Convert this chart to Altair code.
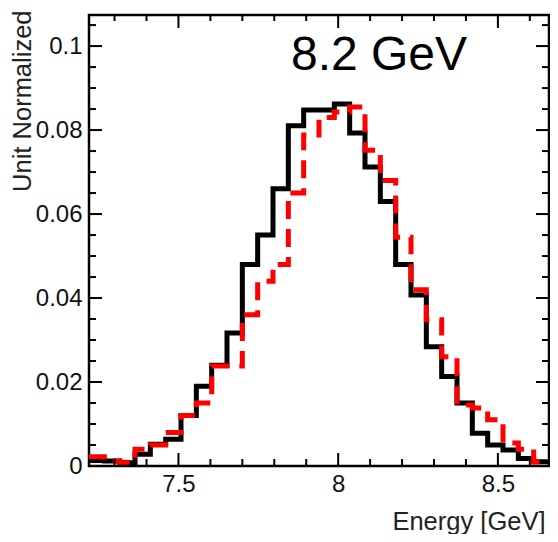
import altair as alt
import pandas as pd

# Histogram bin edges (30 bins, 7.22 - 8.66 GeV)
bin_edges = [7.220, 7.268, 7.316, 7.364, 7.412, 7.460, 7.508, 7.556, 7.604, 7.652,
             7.700, 7.748, 7.796, 7.844, 7.892, 7.940, 7.988, 8.036, 8.084, 8.132,
             8.180, 8.228, 8.276, 8.324, 8.372, 8.420, 8.468, 8.516, 8.564, 8.612, 8.660]

black_vals = [0.0013, 0.0012, 0.0008, 0.0028, 0.0052, 0.0064, 0.0120, 0.0190, 0.0240, 0.0317,
              0.0480, 0.0550, 0.0660, 0.0810, 0.0848, 0.0848, 0.0862, 0.0793, 0.0712, 0.0630,
              0.0480, 0.0407, 0.0284, 0.0213, 0.0150, 0.0078, 0.0050, 0.0038, 0.0018, 0.0010]

red_vals = [0.0022, 0.0012, 0.0009, 0.0040, 0.0050, 0.0080, 0.0120, 0.0150, 0.0238, 0.0238,
            0.0360, 0.0440, 0.0480, 0.0650, 0.0788, 0.0830, 0.0843, 0.0855, 0.0752, 0.0680,
            0.0545, 0.0420, 0.0348, 0.0260, 0.0145, 0.0138, 0.0110, 0.0055, 0.0040, 0.0010]

x_major = [7.5, 8.0, 8.5]
x_minor = [7.3, 7.4, 7.6, 7.7, 7.8, 7.9, 8.1, 8.2, 8.3, 8.4, 8.6]
y_major = [0.0, 0.02, 0.04, 0.06, 0.08, 0.1]
y_minor = [0.005, 0.01, 0.015, 0.025, 0.03, 0.035, 0.045, 0.05, 0.055,
           0.065, 0.07, 0.075, 0.085, 0.09, 0.095, 0.105]

energy_label = "8.2 GeV"
x_title = "Energy [GeV]"
y_title = "Unit Normalized"

X_DOMAIN = [7.22, 8.66]
Y_DOMAIN = [0, 0.1074]
W, H = 460, 451
FONT = "Liberation Sans"

black_df = pd.DataFrame({"x": bin_edges, "y": black_vals + [black_vals[-1]]})
red_df = pd.DataFrame({"x": bin_edges, "y": red_vals + [red_vals[-1]]})

xscale = alt.Scale(domain=X_DOMAIN, nice=False, zero=False)
yscale = alt.Scale(domain=Y_DOMAIN, nice=False, zero=False)

xaxis = alt.Axis(
    values=x_major, format=".1~f", ticks=False, domain=False, grid=False,
    labelFont=FONT, labelFontSize=24, labelColor="#111", labelPadding=6,
    title=x_title, titleFont=FONT, titleFontSize=25.5, titleFontWeight="normal",
    titleColor="#222", titleAlign="right", titleAnchor="end",
    titleX=W - 4, titleY=63, titleBaseline="alphabetic")
yaxis = alt.Axis(
    values=y_major, format=".2~f", ticks=False, domain=False, grid=False,
    labelFont=FONT, labelFontSize=24, labelColor="#111", labelPadding=7,
    title=y_title, titleFont=FONT, titleFontSize=25.5, titleFontWeight="normal",
    titleColor="#222", titleAngle=270, titleAlign="right", titleAnchor="end",
    titleX=-59, titleY=-5, titleBaseline="alphabetic")

X = alt.X("x:Q", scale=xscale, axis=xaxis)
Y = alt.Y("y:Q", scale=yscale, axis=yaxis)

black = alt.Chart(black_df).mark_line(
    interpolate="step-after", color="black", strokeWidth=5, clip=True
).encode(x=X, y=Y)

red = alt.Chart(red_df).mark_line(
    interpolate="step-after", color="#ff0000", strokeWidth=5,
    strokeDash=[18, 10], clip=True
).encode(x=X, y=Y)

def xticks(vals, length, bottom=True):
    df = pd.DataFrame({"x": vals})
    y0 = H if bottom else 0
    y1 = H - length if bottom else length
    return alt.Chart(df).mark_rule(color="black", strokeWidth=2).encode(
        x=X, y=alt.value(y0), y2=alt.value(y1))

def yticks(vals, length, left=True):
    df = pd.DataFrame({"y": vals})
    x0 = 0 if left else W
    x1 = length if left else W - length
    return alt.Chart(df).mark_rule(color="black", strokeWidth=2).encode(
        y=Y, x=alt.value(x0), x2=alt.value(x1))

ticks = [
    xticks(x_major, 13, True), xticks(x_minor, 7, True),
    xticks(x_major, 13, False), xticks(x_minor, 6, False),
    yticks(y_major, 13, True), yticks(y_minor, 7, True),
    yticks(y_major, 13, False), yticks(y_minor, 7, False),
]

label = alt.Chart(pd.DataFrame({"t": [energy_label]})).mark_text(
    font=FONT, fontSize=48, color="black", align="center", baseline="alphabetic"
).encode(text="t:N", x=alt.value(290), y=alt.value(55))

chart = alt.layer(black, red, *ticks, label).properties(
    width=W, height=H,
    background="white",
    autosize=alt.AutoSizeParams(type="none"),
    padding={"left": 81, "top": 7, "right": 1, "bottom": 68},
).configure_view(stroke="black", strokeWidth=2.5)

chart.save("out.html", embed_options={"renderer": "svg", "actions": False})
